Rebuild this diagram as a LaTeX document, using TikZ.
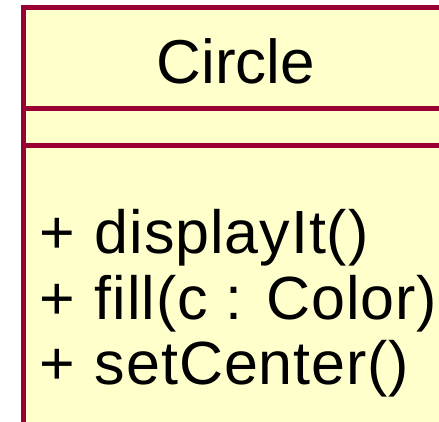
\documentclass[tikz,border=0pt]{standalone}
\usepackage{fontspec}
\setmainfont{Liberation Sans}
\definecolor{umlborder}{RGB}{153,0,51}
\definecolor{umlfill}{RGB}{255,255,204}
\begin{document}
\begin{tikzpicture}[x=1pt,y=-1pt,
  classbox/.style={draw=umlborder,fill=umlfill,line width=5pt},
  divider/.style={draw=umlborder,line width=5pt},
  titletext/.style={inner sep=0pt,anchor=base,font=\fontsize{62}{70}\selectfont},
  methodtext/.style={inner sep=0pt,anchor=base west,font=\fontsize{61}{70}\selectfont\addfontfeatures{LetterSpace=1.5}}]
\useasboundingbox (0,0) rectangle (439,422);
\clip (0,0) rectangle (439,422);
\path[classbox] (23.5,7.5) rectangle (470,460);
\path[divider] (23.5,109) -- (470,109);
\path[divider] (23.5,146) -- (470,146);
\node[titletext] (title) at (236,84) {Circle};
\node[methodtext] (m1) at (39,254) {+\hspace{0.33em}displayIt()};
\node[methodtext] (m2) at (39,319) {+\hspace{0.33em}fill(c : Color)};
\node[methodtext] (m3) at (39,384) {+\hspace{0.33em}setCenter()};
\end{tikzpicture}
\end{document}
